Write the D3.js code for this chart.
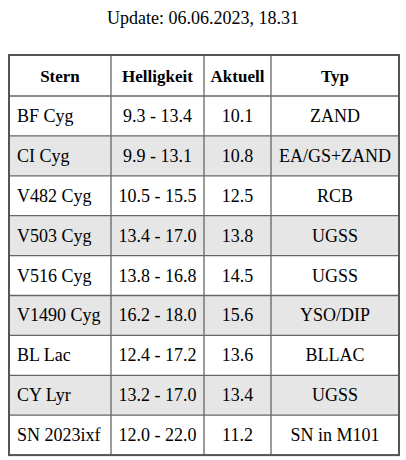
<!DOCTYPE html><html><head><meta charset="utf-8"/>
<script src="https://d3js.org/d3.v7.min.js"></script>
<style>body{margin:0;background:#fff;font-family:'Liberation Serif','Times New Roman',serif;}</style>
</head><body><div id="chart"></div>
<script>
const title = "Update: 06.06.2023, 18.31";
const headers = ["Stern", "Helligkeit", "Aktuell", "Typ"];
const stars = ["BF Cyg","CI Cyg","V482 Cyg","V503 Cyg","V516 Cyg","V1490 Cyg","BL Lac","CY Lyr","SN 2023ixf"];
const ranges = ["9.3 - 13.4","9.9 - 13.1","10.5 - 15.5","13.4 - 17.0","13.8 - 16.8","16.2 - 18.0","12.4 - 17.2","13.2 - 17.0","12.0 - 22.0"];
const current = ["10.1","10.8","12.5","13.8","14.5","15.6","13.6","13.4","11.2"];
const types = ["ZAND","EA/GS+ZAND","RCB","UGSS","UGSS","YSO/DIP","BLLAC","UGSS","SN in M101"];

const rows = stars.map((s,i)=>[s, ranges[i], current[i], types[i]]);
const colEdges = [9, 111, 204, 271, 399];
const tableTop = 55, headH = 41, rowH = 39.9;

const svg = d3.select("#chart").append("svg").attr("width",406).attr("height",460);
svg.append("text").attr("x",203).attr("y",24).attr("text-anchor","middle")
  .style("font-size","18px").text(title);

const y = d3.scaleBand().domain(d3.range(rows.length)).range([tableTop+headH, tableTop+headH+rowH*rows.length]).padding(0);

// row backgrounds
svg.selectAll(".bg").data(rows).enter().append("rect")
  .attr("x",colEdges[0]).attr("width",colEdges[4]-colEdges[0])
  .attr("y",(d,i)=>y(i)).attr("height",y.bandwidth())
  .attr("fill",(d,i)=>i%2? "#e6e6e6":"#fff");

// grid lines
const tableBottom = tableTop+headH+rowH*rows.length;
const hLines = [tableTop, tableTop+headH].concat(d3.range(rows.length).map(i=>y(i)+y.bandwidth()));
svg.selectAll(".hl").data(hLines).enter().append("line")
  .attr("x1",colEdges[0]).attr("x2",colEdges[4]).attr("y1",d=>d).attr("y2",d=>d)
  .attr("stroke","#666").attr("stroke-width",1.3);
svg.selectAll(".vl").data(colEdges).enter().append("line")
  .attr("x1",d=>d).attr("x2",d=>d).attr("y1",tableTop).attr("y2",tableBottom)
  .attr("stroke","#666").attr("stroke-width",1.3);
svg.append("rect").attr("x",colEdges[0]).attr("y",tableTop).attr("width",colEdges[4]-colEdges[0])
  .attr("height",tableBottom-tableTop).attr("fill","none").attr("stroke","#555").attr("stroke-width",2);

const cx = (j)=> j===0 ? colEdges[0]+8 : (colEdges[j]+colEdges[j+1])/2;
const anchor = j=> j===0 ? "start":"middle";

svg.selectAll(".h").data(headers).enter().append("text")
  .attr("x",(d,j)=>j===0?(colEdges[0]+colEdges[1])/2:cx(j)).attr("y",tableTop+headH/2+6)
  .attr("text-anchor","middle").style("font-size","17px").style("font-weight","bold").text(d=>d);

rows.forEach((r,i)=>{
  svg.selectAll(null).data(r).enter().append("text")
    .attr("x",(d,j)=>cx(j)).attr("y",y(i)+y.bandwidth()/2+6)
    .attr("text-anchor",(d,j)=>anchor(j)).style("font-size","18px").text(d=>d);
});
</script></body></html>
